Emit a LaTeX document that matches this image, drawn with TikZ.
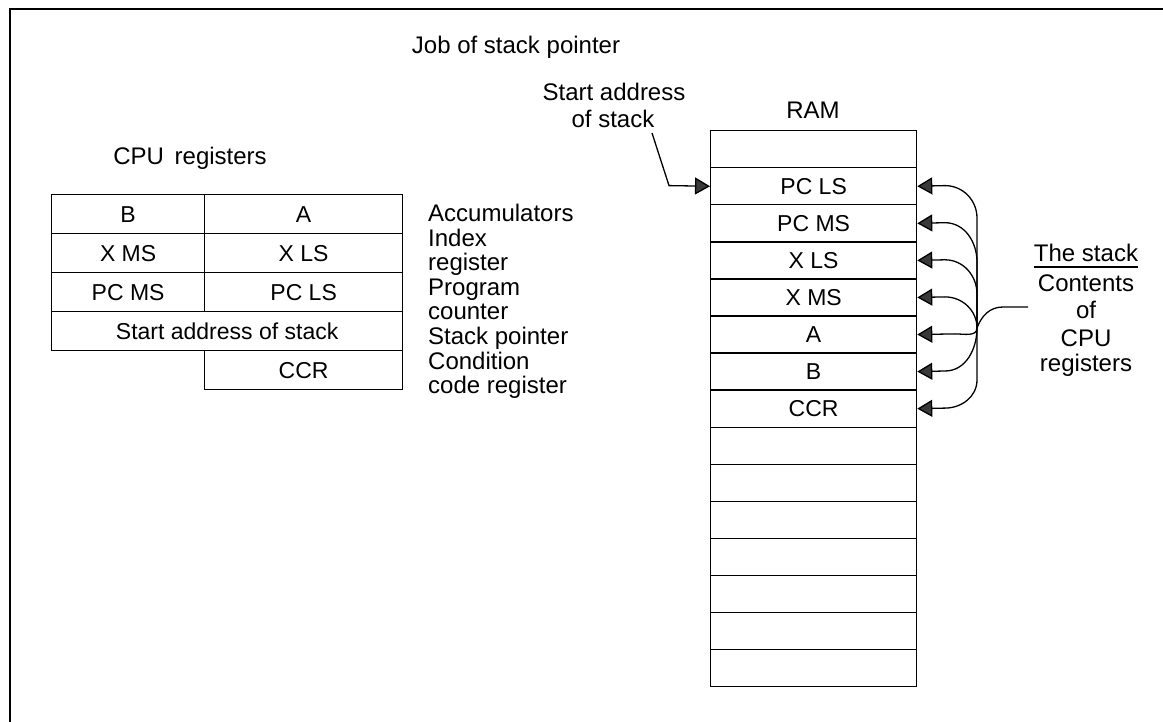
\documentclass[tikz,border=0pt]{standalone}
\usepackage{fontspec}
\setmainfont{Liberation Sans}
\usetikzlibrary{arrows.meta}
\begin{document}
\begin{tikzpicture}[x=1pt,y=-1pt,
  txt/.style={font=\fontsize{24}{24}\selectfont, inner sep=0pt},
  cell/.style={draw, line width=1.3pt, minimum height=39pt, inner sep=0pt, font=\fontsize{23}{23}\selectfont, anchor=north west},
  ramcell/.style={draw, line width=1.3pt, minimum width=206pt, minimum height=37.07pt, inner sep=0pt, font=\fontsize{23}{23}\selectfont, anchor=north west},
  tip/.style={-{Triangle[length=15pt,width=17pt,fill=gray!45!black]}, line width=1.3pt},
  link/.style={line width=1.3pt}
]
\useasboundingbox (0,0) rectangle (1163,722);
\draw[line width=2.5pt] (1163,9) -- (10,9) -- (10,722);

\node[txt] (title) at (516,47) {Job of stack pointer};
\node[txt] (cpulab) at (190,158) {CPU\hspace{0.45em}registers};

% CPU registers
\node[cell, minimum width=153pt] (cb) at (51,194) {B};
\node[cell, minimum width=198pt] (ca) at (204,194) {A};
\node[cell, minimum width=153pt] (cxm) at (51,233) {X MS};
\node[cell, minimum width=198pt] (cxl) at (204,233) {X LS};
\node[cell, minimum width=153pt] (cpm) at (51,272) {PC MS};
\node[cell, minimum width=198pt] (cpl) at (204,272) {PC LS};
\node[cell, minimum width=351pt] (csp) at (51,311) {Start address of stack};
\node[cell, minimum width=198pt] (cccr) at (204,350) {CCR};

\foreach \i/\t in {0/Accumulators,1/Index,2/register,3/Program,4/counter,5/Stack pointer,6/Condition,7/code register}
  \node[txt, anchor=base west] (lab\i) at (428,221.5+24.6*\i) {\t};

% RAM
\node[txt] (ramlab) at (813,110) {RAM};
\foreach \i/\t in {0/{},1/PC LS,2/PC MS,3/X LS,4/X MS,5/A,6/B,7/CCR,8/{},9/{},10/{},11/{},12/{},13/{},14/{}}
  \node[ramcell] (r\i) at (710,130+37.07*\i) {\t};

% start address arrow
\node[txt] (sa1) at (614,92) {Start address};
\node[txt] (sa2) at (613,119) {of stack};
\coordinate (s0) at (652,133);
\draw[tip] (s0) -- (669,185.6) -- (r1.west);

% stack arrows
\coordinate (M) at (977,328);
\draw[tip] (M) -- (977,218) to[out=90,in=0] (945,185.6) -- (r1.east);
\draw[tip] (M) -- (977,262) to[out=90,in=0] (945,222.7) -- (r2.east);
\draw[tip] (M) -- (977,294) to[out=90,in=0] (945,259.8) -- (r3.east);
\draw[tip] (M) to[out=90,in=0] (945,296.9) -- (r4.east);
\draw[tip] (M) to[out=-90,in=0] (955,333.9) -- (r5.east);
\draw[tip] (M) to[out=-90,in=0] (945,371) -- (r6.east);
\draw[tip] (M) -- (977,380) to[out=-90,in=0] (945,408.1) -- (r7.east);
\coordinate (L) at (1028,307);
\draw[link] (M) to[out=70,in=180] (1003,307) -- (L);

\node[txt] (ts) at (1086,253) {The stack};
\draw[line width=1.3pt] ([yshift=-5pt]ts.south west) -- ([yshift=-5pt]ts.south east);
\node[txt] (t2) at (1086,283) {Contents};
\node[txt] (t3) at (1086,310) {of};
\node[txt] (t4) at (1086,338) {CPU};
\node[txt] (t5) at (1086,365) {registers};
\end{tikzpicture}
\end{document}
